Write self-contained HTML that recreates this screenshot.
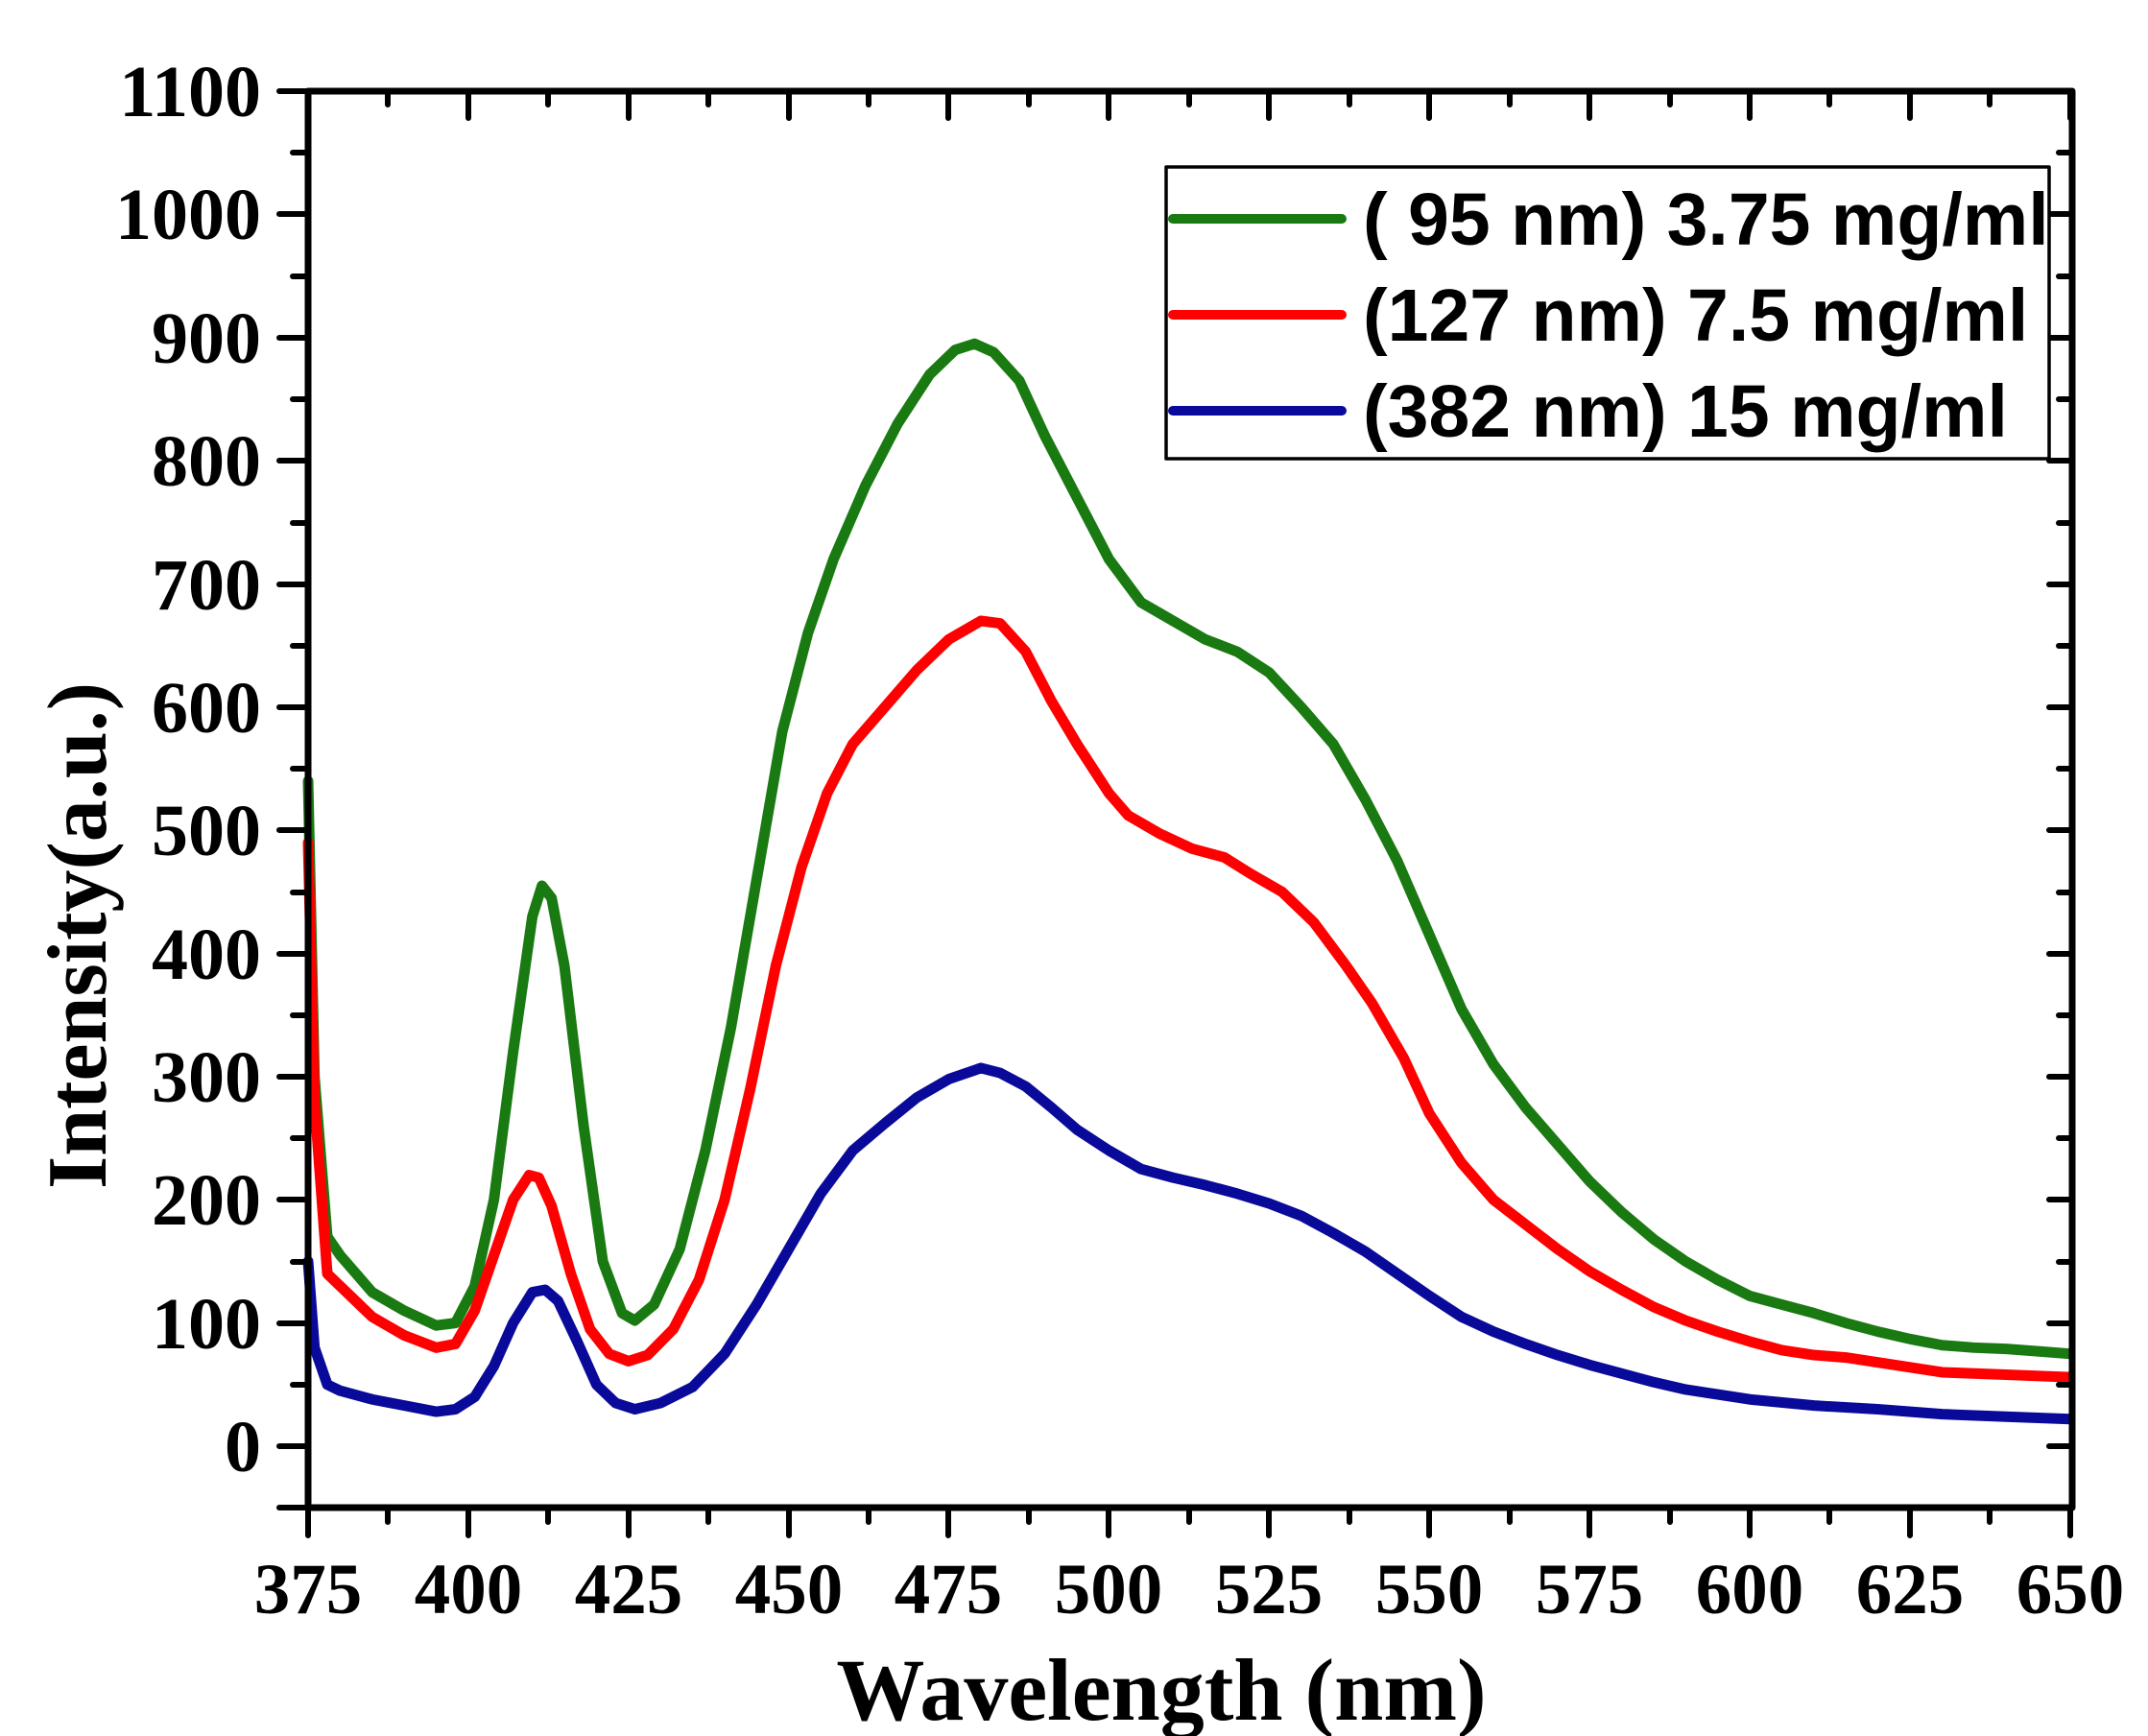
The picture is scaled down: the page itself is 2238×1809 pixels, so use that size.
<!DOCTYPE html>
<html><head><meta charset="utf-8"><style>
html,body{margin:0;padding:0;background:#fff;}
svg{display:block;}
text{font-family:"Liberation Serif",serif;font-weight:bold;fill:#000;}
.l{font-family:"Liberation Sans",sans-serif;font-size:77px;}
</style></head><body>
<svg width="2238" height="1809" viewBox="0 0 2238 1809" xmlns="http://www.w3.org/2000/svg">
<rect width="2238" height="1809" fill="#fff"/>
<g fill="none" stroke-linejoin="round" stroke-linecap="round">
<g transform="translate(321,1507) scale(6.676,-1.2836) translate(-375,0)">
<polyline vector-effect="non-scaling-stroke" stroke="#1a7a12" stroke-width="11" points="375,540 376,300 378,170 380,155 385,125 390,110 395,98 398,100 401,130 404,200 407,320 410,430 411.5,455 413,445 415,390 418,260 421,150 424,108 426,102 429,115 433,160 437,240 441,340 445,460 449,580 453,660 457,720 462,780 467,830 472,870 476,890 479,895 482,888 486,865 490,820 495,770 500,720 505,685 510,670 515,655 520,645 525,628 530,600 535,570 540,525 545,475 550,415 555,355 560,310 565,275 570,245 575,215 580,190 585,168 590,150 595,135 600,122 605,115 610,108 615,100 620,93 625,87 630,82 635,80 640,79 645,77 650,75"/>
<polyline vector-effect="non-scaling-stroke" stroke="#ff0000" stroke-width="11" points="375,490 376,280 378,140 380,130 385,105 390,90 395,80 398,83 401,110 404,155 407,200 409.5,220 411,218 413,195 416,140 419,95 422,75 425,69 428,74 432,95 436,135 440,200 444,290 448,390 452,470 456,530 460,570 465,600 470,630 475,655 480,670 483,668 487,645 491,605 495,570 500,530 503,512 508,497 513,485 518,478 522,465 527,450 532,425 537,390 541,360 546,315 550,270 555,230 560,200 565,180 570,160 575,142 580,127 585,113 590,102 595,93 600,85 605,78 610,74 615,72 620,68 625,64 630,60 640,58 650,56"/>
<polyline vector-effect="non-scaling-stroke" stroke="#0a0a9a" stroke-width="11" points="375,150 376,80 378,50 380,45 385,38 390,33 395,28 398,30 401,40 404,65 407,100 410,125 412,127 414,118 417,85 420,50 423,35 426,30 430,35 435,48 440,75 445,115 450,160 455,205 460,240 465,262 470,283 475,298 480,307 483,303 487,292 491,275 495,257 500,240 505,225 510,218 515,212 520,205 525,197 530,187 535,173 540,158 545,140 550,122 555,105 560,93 565,83 570,74 575,66 580,59 585,52 590,46 595,42 600,38 610,33 620,30 630,26 640,24 650,22"/>
</g>
<rect x="321" y="95" width="1838" height="1476" stroke="#000" stroke-width="7" stroke-linecap="butt"/>
<path stroke="#000" stroke-width="6" d="
M321 1571v29 M488 1571v29 M655 1571v29 M822 1571v29 M988 1571v29 M1155 1571v29 M1322 1571v29 M1489 1571v29 M1656 1571v29 M1823 1571v29 M1990 1571v29 M2157 1571v29
M404 1571v15 M571 1571v15 M738 1571v15 M905 1571v15 M1072 1571v15 M1239 1571v15 M1406 1571v15 M1573 1571v15 M1740 1571v15 M1906 1571v15 M2073 1571v15
M321 95v28 M488 95v28 M655 95v28 M822 95v28 M988 95v28 M1155 95v28 M1322 95v28 M1489 95v28 M1656 95v28 M1823 95v28 M1990 95v28 M2157 95v28
M404 95v14 M571 95v14 M738 95v14 M905 95v14 M1072 95v14 M1239 95v14 M1406 95v14 M1573 95v14 M1740 95v14 M1906 95v14 M2073 95v14
M291 1507h30 M291 1379h30 M291 1250h30 M291 1122h30 M291 994h30 M291 865h30 M291 737h30 M291 609h30 M291 480h30 M291 352h30 M291 223h30 M291 95h30 M291 1571h30
M305 1443h16 M305 1315h16 M305 1186h16 M305 1058h16 M305 930h16 M305 801h16 M305 673h16 M305 545h16 M305 416h16 M305 288h16 M305 159h16
M2135 1507h24 M2135 1379h24 M2135 1250h24 M2135 1122h24 M2135 994h24 M2135 865h24 M2135 737h24 M2135 609h24 M2135 480h24 M2135 352h24 M2135 223h24
M2145 1443h14 M2145 1315h14 M2145 1186h14 M2145 1058h14 M2145 930h14 M2145 801h14 M2145 673h14 M2145 545h14 M2145 416h14 M2145 288h14 M2145 159h14"/>
<rect x="1215" y="174" width="920" height="304" fill="#fff" stroke="#000" stroke-width="3.5"/>
<path stroke="#1a7a12" stroke-width="10" d="M1222 228h176"/>
<path stroke="#ff0000" stroke-width="10" d="M1222 328h176"/>
<path stroke="#0a0a9a" stroke-width="10" d="M1222 428h176"/>
</g>
<text class="l" x="1420" y="255">( 95 nm) 3.75 mg/ml</text>
<text class="l" x="1420" y="355">(127 nm) 7.5 mg/ml</text>
<text class="l" x="1420" y="455">(382 nm) 15 mg/ml</text>
<g font-size="76" text-anchor="end">
<text x="272" y="1533">0</text><text x="272" y="1405">100</text><text x="272" y="1276">200</text><text x="272" y="1148">300</text><text x="272" y="1020">400</text><text x="272" y="891">500</text><text x="272" y="763">600</text><text x="272" y="635">700</text><text x="272" y="506">800</text><text x="272" y="378">900</text><text x="272" y="249">1000</text><text x="272" y="121">1100</text>
</g>
<g font-size="75" text-anchor="middle">
<text x="321" y="1681">375</text><text x="488" y="1681">400</text><text x="655" y="1681">425</text><text x="822" y="1681">450</text><text x="988" y="1681">475</text><text x="1155" y="1681">500</text><text x="1322" y="1681">525</text><text x="1489" y="1681">550</text><text x="1656" y="1681">575</text><text x="1823" y="1681">600</text><text x="1990" y="1681">625</text><text x="2157" y="1681">650</text>
</g>
<text x="1210" y="1792" font-size="92" text-anchor="middle">Wavelength (nm)</text>
<text transform="translate(110,975) rotate(-90)" font-size="88" text-anchor="middle">Intensity(a.u.)</text>
</svg>
</body></html>
